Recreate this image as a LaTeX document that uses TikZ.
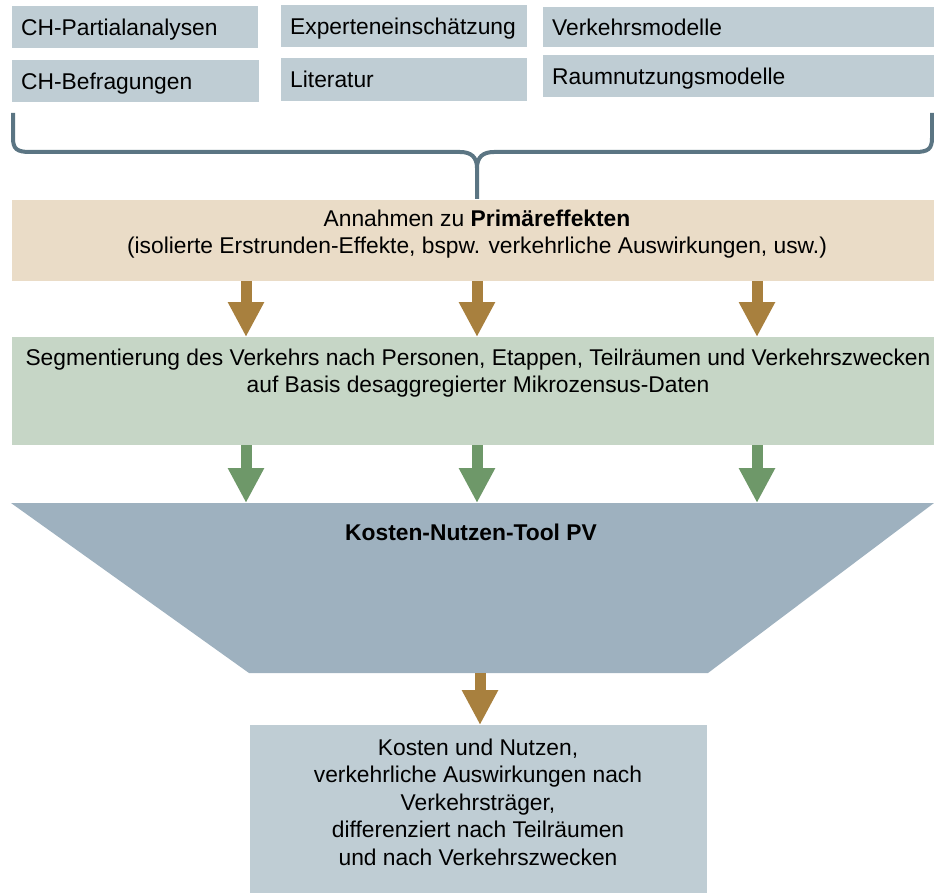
\documentclass[tikz,border=0pt]{standalone}
\usepackage{fontspec}
\setmainfont{Liberation Sans}
\usetikzlibrary{arrows.meta}
\definecolor{boxblue}{HTML}{BFCDD4}
\definecolor{beige}{HTML}{EADCC7}
\definecolor{lightgreen}{HTML}{C6D6C6}
\definecolor{trapblue}{HTML}{9EB1BF}
\definecolor{brownarrow}{HTML}{A8803E}
\definecolor{greenarrow}{HTML}{6E9869}
\definecolor{bracecol}{HTML}{5B7583}
\begin{document}
\begin{tikzpicture}[x=1pt,y=-1pt,
  every node/.style={font=\fontsize{22.8}{27.5}\selectfont},
  topbox/.style={fill=boxblue, anchor=north west, inner ysep=0pt, inner xsep=9pt, align=left, text height=21pt, text depth=5pt},
  panel/.style={anchor=north west, inner sep=0pt},
  txt/.style={align=center, inner sep=0pt},
  brownarr/.style={draw=brownarrow, line width=11pt, -{Triangle[width=34pt,length=35pt]}},
  greenarr/.style={draw=greenarrow, line width=11pt, -{Triangle[width=34pt,length=35pt]}}
]
\useasboundingbox (0,0) rectangle (934,893);

% top source boxes
\node[topbox, minimum width=246pt, minimum height=42pt, text width=228pt] (cp) at (12,6) {CH-Partialanalysen};
\node[topbox, minimum width=247pt, minimum height=42pt, text width=229pt] (cb) at (12,60) {CH-Befragungen};
\node[topbox, minimum width=246pt, minimum height=42pt, text width=228pt] (ex) at (281,5) {Experteneinschätzung};
\node[topbox, minimum width=246pt, minimum height=43pt, text width=228pt] (li) at (281,58) {Literatur};
\node[topbox, minimum width=391pt, minimum height=40pt, text width=373pt] (vm) at (543,7) {Verkehrsmodelle};
\node[topbox, minimum width=391pt, minimum height=42pt, text width=373pt] (rm) at (543,55) {Raumnutzungsmodelle};

% brace
\coordinate (bl) at (13,113);
\coordinate (br) at (932,113);
\coordinate (bt) at (477,199);
\draw[bracecol, line width=4pt] (bl) -- (13,138) .. controls (13,149) and (17,152) .. (30,152)
  -- (460,152) .. controls (471,152) and (477,157) .. (477,168) -- (bt);
\draw[bracecol, line width=4pt] (br) -- (932,138) .. controls (932,149) and (928,152) .. (915,152)
  -- (494,152) .. controls (483,152) and (477,157) .. (477,168);

% beige panel
\node[panel, fill=beige, minimum width=922pt, minimum height=81pt] (prim) at (12,200) {};
\node[txt] (primtxt) at (477,234) {Annahmen zu \textbf{Primäreffekten}\\(isolierte Erstrunden-Effekte, bspw. verkehrliche Auswirkungen, usw.)};

% green panel
\node[panel, fill=lightgreen, minimum width=922pt, minimum height=108pt] (seg) at (12,337) {};
\node[txt] (segtxt) at (478,373) {Segmentierung des Verkehrs nach Personen, Etappen, Teilräumen und Verkehrszwecken\\auf Basis desaggregierter Mikrozensus-Daten};

% trapezoid
\coordinate (tl) at (11,503);
\coordinate (tr) at (934,503);
\coordinate (brr) at (708,673);
\coordinate (bll) at (249,673);
\fill[trapblue] (tl) -- (tr) -- (brr) -- (bll) -- cycle;
\node[txt, font=\fontsize{22.8}{27.5}\selectfont\bfseries] (tool) at (471,532) {Kosten-Nutzen-Tool PV};

% result box
\node[panel, fill=boxblue, minimum width=457pt, minimum height=168pt] (res) at (250,725) {};
\node[txt] (restxt) at (478,802) {Kosten und Nutzen,\\verkehrliche Auswirkungen nach\\Verkehrsträger,\\differenziert nach Teilräumen\\und nach Verkehrszwecken};

% arrows
\foreach \x/\n in {246/a,477/b,757/c}{
  \coordinate (p\n) at (\x,281);
  \coordinate (q\n) at (\x,337);
  \coordinate (r\n) at (\x,445);
  \coordinate (s\n) at (\x,503);
  \draw[brownarr] (p\n) -- (q\n);
  \draw[greenarr] (r\n) -- (s\n);
}
\coordinate (u) at (480,673);
\coordinate (v) at (480,725);
\draw[brownarr] (u) -- (v);
\end{tikzpicture}
\end{document}
